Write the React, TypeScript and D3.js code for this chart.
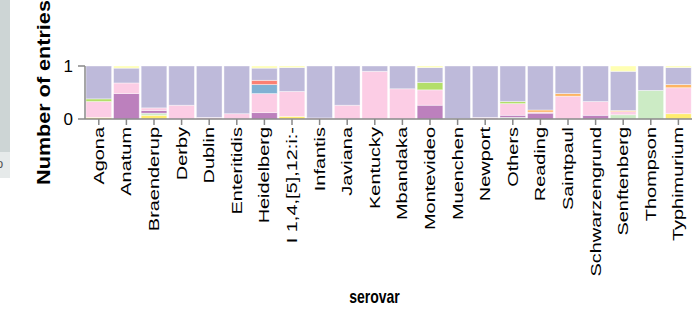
import React from "react";
import * as d3 from "d3";

const serovars = [
  "Agona", "Anatum", "Braenderup", "Derby", "Dublin", "Enteritidis", "Heidelberg",
  "I 1,4,[5],12:i:-", "Infantis", "Javiana", "Kentucky", "Mbandaka", "Montevideo",
  "Muenchen", "Newport", "Others", "Reading", "Saintpaul", "Schwarzengrund",
  "Senftenberg", "Thompson", "Typhimurium",
];

const yTicks = [0, 1];

// colour groups in Set3 domain order; the first one stacks on top
const groups = ["g0", "g1", "g2", "g3", "g4", "g5", "g6", "g7", "g8", "g9", "g10", "g11"];

const g0 = [0, 0, 0, 0, 0, 0, 0, 0, 0, 0, 0, 0, 0, 0, 0, 0, 0, 0, 0, 0, 0, 0];
const g1 = [0, 0.04, 0, 0, 0, 0, 0.04, 0.03, 0, 0, 0, 0, 0.03, 0, 0, 0, 0, 0, 0, 0.1, 0, 0.03];
const g2 = [0.62, 0.28, 0.79, 0.74, 0.97, 0.9, 0.23, 0.45, 0.98, 0.74, 0.1, 0.43, 0.28, 0.99, 0.97, 0.67, 0.83, 0.52, 0.67, 0.74, 0.46, 0.32];
const g3 = [0, 0, 0, 0, 0, 0, 0.08, 0, 0, 0, 0, 0, 0, 0, 0, 0, 0, 0, 0, 0, 0, 0];
const g4 = [0, 0, 0, 0, 0, 0, 0.17, 0, 0, 0, 0, 0, 0, 0, 0, 0, 0, 0, 0, 0, 0, 0];
const g5 = [0, 0, 0, 0, 0, 0, 0, 0, 0, 0, 0, 0, 0, 0, 0, 0, 0.04, 0.05, 0, 0.02, 0, 0.06];
const g6 = [0.05, 0, 0, 0, 0, 0, 0, 0, 0, 0, 0, 0, 0.14, 0, 0, 0.04, 0, 0, 0, 0, 0, 0];
const g7 = [0.3, 0.2, 0.05, 0.26, 0.03, 0.1, 0.36, 0.47, 0.02, 0.26, 0.9, 0.57, 0.29, 0.01, 0.03, 0.22, 0.02, 0.43, 0.26, 0.06, 0, 0.49];
const g8 = [0, 0, 0, 0, 0, 0, 0, 0, 0, 0, 0, 0, 0, 0, 0, 0, 0, 0, 0, 0, 0, 0];
const g9 = [0, 0.48, 0.05, 0, 0, 0, 0.12, 0, 0, 0, 0, 0, 0.26, 0, 0, 0.04, 0.11, 0, 0.07, 0, 0, 0];
const g10 = [0, 0, 0.04, 0, 0, 0, 0, 0, 0, 0, 0, 0, 0, 0, 0, 0.03, 0, 0, 0, 0.08, 0.54, 0];
const g11 = [0.03, 0, 0.07, 0, 0, 0, 0, 0.05, 0, 0, 0, 0, 0, 0, 0, 0, 0, 0, 0, 0, 0, 0.1];

const seriesValues = [g0, g1, g2, g3, g4, g5, g6, g7, g8, g9, g10, g11];

const W = 692;
const H = 325;
const FONT = "'Liberation Sans', Arial, Helvetica, sans-serif";

export default function App() {
  const rows = serovars.map((s, i) => {
    const r: any = { serovar: s };
    groups.forEach((g, k) => (r[g] = seriesValues[k][i]));
    return r;
  });

  const stackKeys = groups.slice().reverse(); // bottom -> top
  const stacked = d3.stack().keys(stackKeys).offset(d3.stackOffsetExpand)(rows);

  const color = d3.scaleOrdinal<string, string>().domain(groups).range(d3.schemeSet3);

  const x = d3
    .scaleBand<string>()
    .domain(serovars)
    .range([85, 692.2])
    .paddingInner(0.07)
    .paddingOuter(0.035);
  const y = d3.scaleLinear().domain([0, 1]).range([119, 66]);

  const axisColor = "#888";

  return (
    <svg
      width={W}
      height={H}
      style={{ position: "absolute", left: 0, top: 0, background: "#fff" }}
    >
      {/* left clipped panel */}
      <rect x={0} y={0} width={10} height={152} fill="#cdd5d5" />
      <rect x={0} y={152} width={10} height={26} fill="#e6eaea" />
      <text x={-4} y={168} fontFamily={FONT} fontSize={13} fill="#555">o</text>

      {/* bars */}
      {stacked.map((layer) => (
        <g key={layer.key} fill={color(layer.key)}>
          {layer.map((d, i) =>
            d[1] - d[0] > 0 ? (
              <rect
                key={i}
                x={x(serovars[i])}
                y={y(d[1])}
                width={x.bandwidth()}
                height={y(d[0]) - y(d[1])}
                stroke="#fff"
                strokeOpacity={0.5}
                strokeWidth={0.8}
              />
            ) : null
          )}
        </g>
      ))}

      {/* y axis */}
      <line x1={85} x2={85} y1={y(1)} y2={y(0)} stroke={axisColor} strokeWidth={1.5} />
      {yTicks.map((t) => (
        <g key={t}>
          <line x1={78} x2={85} y1={y(t)} y2={y(t)} stroke={axisColor} strokeWidth={1.5} />
          <text
            x={73}
            y={y(t)}
            textAnchor="end"
            dominantBaseline="central"
            fontFamily={FONT}
            fontSize={17}
            fill="#000"
          >
            {t}
          </text>
        </g>
      ))}
      <text
        transform={`translate(50,92.5) scale(1,1.2) rotate(-90)`}
        textAnchor="middle"
        fontFamily={FONT}
        fontWeight="bold"
        fontSize={18}
        fill="#000"
      >
        Number of entries
      </text>

      {/* x axis */}
      <line x1={85} x2={692} y1={y(0)} y2={y(0)} stroke={axisColor} strokeWidth={1.5} />
      {serovars.map((s) => {
        const cx = (x(s) as number) + x.bandwidth() / 2;
        return (
          <g key={s}>
            <line x1={cx} x2={cx} y1={y(0)} y2={y(0) + 6} stroke={axisColor} strokeWidth={1.5} />
            <text
              transform={`translate(${cx},127) scale(1,1.33) rotate(-90)`}
              textAnchor="end"
              dominantBaseline="central"
              fontFamily={FONT}
              fontSize={15}
              fill="#000"
            >
              {s}
            </text>
          </g>
        );
      })}
      <text
        transform={`translate(374.5,303) scale(1,1.25)`}
        textAnchor="middle"
        fontFamily={FONT}
        fontWeight="bold"
        fontSize={14}
        fill="#000"
      >
        serovar
      </text>
    </svg>
  );
}
